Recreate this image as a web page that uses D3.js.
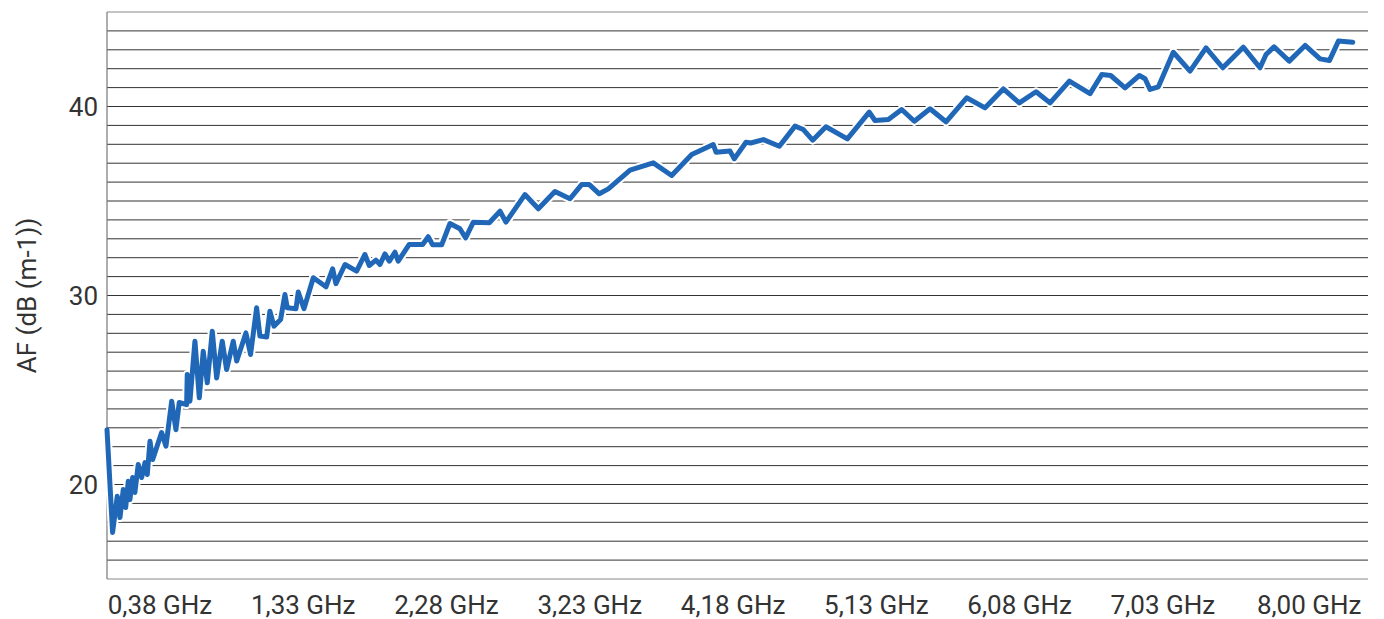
<!DOCTYPE html>
<html>
<head>
<meta charset="utf-8">
<script src="https://cdn.jsdelivr.net/npm/d3@7"></script>
<style>
    html, body { margin: 0; padding: 0; background: #fff; }
    svg { display: block; font-family: Roboto, "Noto Sans", sans-serif; }
</style>
</head>
<body>
<div id="chart"></div>
<script>
// frequency of each vertex of the curve (GHz)
const frequency = [
    0.029, 0.066, 0.097, 0.115, 0.137, 0.153, 0.170, 0.181, 0.199, 0.214,
    0.236, 0.259, 0.281, 0.296, 0.314, 0.332, 0.391, 0.420, 0.458, 0.486,
    0.508, 0.557, 0.561, 0.579, 0.612, 0.641, 0.667, 0.694, 0.727, 0.756,
    0.793, 0.822, 0.866, 0.889, 0.950, 0.981, 1.021, 1.043, 1.088, 1.109,
    1.136, 1.180, 1.209, 1.224, 1.282, 1.297, 1.335, 1.397, 1.481, 1.525,
    1.547, 1.607, 1.684, 1.739, 1.768, 1.812, 1.839, 1.872, 1.901, 1.938,
    1.960, 2.033, 2.122, 2.159, 2.188, 2.248, 2.303, 2.369, 2.407, 2.458,
    2.564, 2.635, 2.674, 2.800, 2.889, 2.999, 3.099, 3.176, 3.227, 3.293,
    3.353, 3.497, 3.651, 3.773, 3.906, 4.049, 4.067, 4.160, 4.188, 4.266,
    4.297, 4.381, 4.487, 4.591, 4.646, 4.708, 4.796, 4.938, 5.083, 5.121,
    5.210, 5.298, 5.382, 5.486, 5.592, 5.729, 5.851, 5.972, 6.078, 6.189,
    6.282, 6.410, 6.547, 6.625, 6.684, 6.779, 6.874, 6.912, 6.945, 7.000,
    7.099, 7.210, 7.316, 7.427, 7.563, 7.674, 7.714, 7.767, 7.868, 7.973,
    8.072, 8.134, 8.194, 8.289
];

// antenna factor at each vertex, dB (m-1)
const antennaFactor = [
    22.90, 17.46, 19.38, 18.25, 19.74, 18.78, 20.17, 19.20, 20.37, 19.58,
    21.06, 20.37, 21.16, 20.53, 22.29, 21.32, 22.75, 22.03, 24.41, 22.90,
    24.34, 24.23, 25.82, 24.41, 27.58, 24.59, 27.05, 25.38, 28.11, 25.64,
    27.58, 26.08, 27.58, 26.53, 28.02, 26.88, 29.35, 27.85, 27.81, 29.17,
    28.38, 28.73, 30.05, 29.35, 29.30, 30.18, 29.30, 30.94, 30.46, 31.41,
    30.63, 31.64, 31.29, 32.17, 31.59, 31.87, 31.64, 32.20, 31.82, 32.29,
    31.82, 32.70, 32.70, 33.11, 32.68, 32.68, 33.81, 33.53, 33.05, 33.88,
    33.85, 34.46, 33.88, 35.34, 34.59, 35.50, 35.12, 35.87, 35.87, 35.38,
    35.64, 36.63, 37.02, 36.35, 37.46, 37.99, 37.58, 37.64, 37.23, 38.11,
    38.07, 38.25, 37.90, 38.96, 38.78, 38.22, 38.93, 38.29, 39.70, 39.26,
    39.31, 39.84, 39.22, 39.88, 39.19, 40.46, 39.93, 40.93, 40.19, 40.78,
    40.19, 41.34, 40.68, 41.69, 41.64, 40.99, 41.64, 41.47, 40.90, 41.04,
    42.87, 41.87, 43.10, 42.05, 43.14, 42.05, 42.75, 43.16, 42.40, 43.23,
    42.52, 42.43, 43.46, 43.40
];

// category labels shown under the x axis
const xTickValues = [0.38, 1.33, 2.28, 3.23, 4.18, 5.13, 6.08, 7.03, 8.00];
const yTickValues = [20, 30, 40];

const width = 1384;
const height = 619;
const margin = {top: 12, right: 16, bottom: 40, left: 107};

/**
 * Draws the antenna factor curve
 */
function drawChart() {
    const svg = d3.select('#chart')
        .append('svg')
        .attr('width', width)
        .attr('height', height);

    const x = d3.scaleLinear()
        .domain([0.029, 8.39])
        .range([margin.left, width - margin.right]);

    const y = d3.scaleLinear()
        .domain([15, 45])
        .range([height - margin.bottom, margin.top]);

    // horizontal grid, one line per dB
    svg.append('g')
        .attr('stroke', '#333')
        .attr('stroke-width', 1)
        .selectAll('line')
        .data(d3.range(15, 46))
        .enter().append('line')
        .attr('x1', margin.left)
        .attr('x2', width - margin.right)
        .attr('y1', d => y(d))
        .attr('y2', d => y(d))
        .attr('stroke', d => (d === 15 || d === 45) ? '#888' : '#333');

    // left axis line
    svg.append('line')
        .attr('x1', margin.left)
        .attr('x2', margin.left)
        .attr('y1', y(45))
        .attr('y2', y(15))
        .attr('stroke', '#777')
        .attr('stroke-width', 1.2);

    const points = frequency.map((f, i) => [f, antennaFactor[i]]);
    const line = d3.line()
        .x(d => x(d[0]))
        .y(d => y(d[1]));

    // white halo keeps the grid away from the curve
    svg.append('path')
        .datum(points)
        .attr('fill', 'none')
        .attr('stroke', '#fff')
        .attr('stroke-width', 9)
        .attr('stroke-linejoin', 'round')
        .attr('d', line);

    svg.append('path')
        .datum(points)
        .attr('fill', 'none')
        .attr('stroke', '#2068b7')
        .attr('stroke-width', 5)
        .attr('stroke-linejoin', 'round')
        .attr('stroke-linecap', 'round')
        .attr('d', line);

    // y tick labels
    svg.append('g')
        .selectAll('text')
        .data(yTickValues)
        .enter().append('text')
        .attr('x', margin.left - 9)
        .attr('y', d => y(d))
        .attr('dy', '0.35em')
        .attr('text-anchor', 'end')
        .attr('font-size', 26)
        .attr('fill', '#333')
        .text(d => d);

    // x tick labels
    svg.append('g')
        .selectAll('text')
        .data(xTickValues)
        .enter().append('text')
        .attr('x', d => x(d))
        .attr('y', height - 5)
        .attr('text-anchor', 'middle')
        .attr('font-size', 26)
        .attr('fill', '#333')
        .text(d => d.toFixed(2).replace('.', ',') + ' GHz');

    svg.append('text')
        .attr('transform', `translate(36,${(y(15) + y(45)) / 2}) rotate(-90)`)
        .attr('text-anchor', 'middle')
        .attr('font-size', 26)
        .attr('fill', '#333')
        .text('AF (dB (m-1))');
}

drawChart();
</script>
</body>
</html>
